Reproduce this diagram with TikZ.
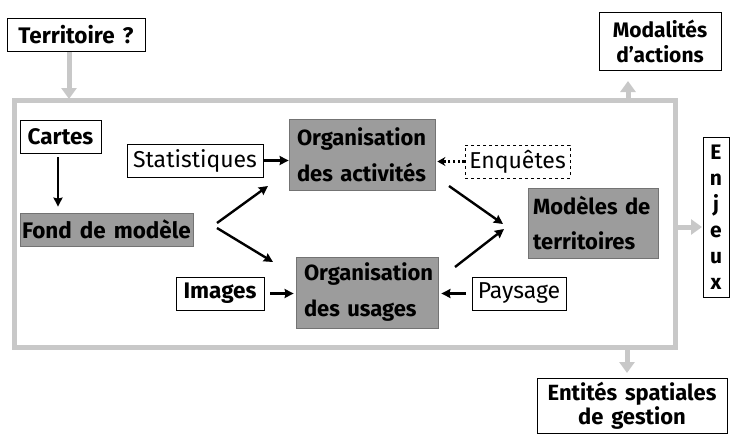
\documentclass[tikz,border=0pt]{standalone}
\usepackage{fontspec}
\setmainfont{Fira Sans}[WordSpace={1.5,0.5,0.3}]
\usetikzlibrary{arrows.meta}
\definecolor{boxgray}{HTML}{9C9C9C}
\definecolor{framegray}{HTML}{C8C8C8}
\tikzset{
  wbox/.style={draw=black, line width=0.8pt, fill=white, inner sep=0pt, minimum height=33pt, font=\fontsize{22.5}{26}\selectfont\bfseries},
  gbox/.style={draw=black!55, line width=0.8pt, fill=boxgray, inner sep=0pt, font=\fontsize{22}{36}\selectfont\bfseries},
  garrow/.style={draw=framegray, line width=5pt, -{Triangle[width=15pt,length=11pt]}},
  barrow/.style={draw=black, line width=2.4pt, -{Stealth[length=9pt,width=9pt,inset=1pt]}},
}
\begin{document}
\begin{tikzpicture}[x=1pt,y=-1pt]
\useasboundingbox (0,0) rectangle (730,434);
% frame
\draw[framegray, line width=5pt] (14,100) rectangle (675,347);
% outside boxes
\node[wbox, minimum width=138pt] (terr) at (76,35) {Territoire ?};
\node[wbox, minimum width=122pt, minimum height=58pt, align=center, font=\fontsize{21}{25}\selectfont\bfseries] (modal) at (660,41) {Modalités\\ d’actions};
\node[wbox, minimum width=26pt, minimum height=160pt, align=center, font=\fontsize{21}{26}\selectfont\bfseries] (enjeux) at (716,217) {E\\n\\j\\e\\u\\x};
\node[wbox, minimum width=190pt, minimum height=55pt, align=center, font=\fontsize{22}{24}\selectfont\bfseries] (entites) at (632,405.5) {Entités spatiales\\de gestion};
% inner boxes
\node[wbox, minimum width=81pt] (cartes) at (60.5,136.5) {Cartes};
\node[gbox, minimum width=173pt, minimum height=33pt, font=\fontsize{22.5}{26}\selectfont\bfseries] (fond) at (106.5,229.5) {Fond de modèle};
\node[wbox, minimum width=136pt, font=\fontsize{23}{26}\selectfont] (stat) at (195,160.5) {Statistiques};
\node[gbox, minimum width=146pt, minimum height=71pt, text width=130pt, align=left] (orgact) at (362,154.5) {Organisation\\des activités};
\node[wbox, dashed, line width=0.6pt, minimum width=105pt, font=\fontsize{23}{26}\selectfont] (enq) at (517.5,161.5) {Enquêtes};
\node[gbox, minimum width=142pt, minimum height=71pt, text width=126pt, align=left] (orgus) at (367,292.5) {Organisation\\des usages};
\node[wbox, minimum width=88pt] (images) at (220,293.5) {Images};
\node[wbox, minimum width=94pt, font=\fontsize{23}{26}\selectfont] (pays) at (519,293.5) {Paysage};
\node[gbox, minimum width=130pt, minimum height=70pt, text width=120pt, align=left, font=\fontsize{22}{35}\selectfont\bfseries] (model) at (593,223) {Modèles de\\territoires};
% gray arrows
\coordinate (t1) at (69,52);
\coordinate (t2) at (69,99);
\draw[garrow] (t1) -- (t2);
\coordinate (m1) at (628,98);
\coordinate (m2) at (628,81);
\draw[garrow] (m1) -- (m2);
\coordinate (e1) at (677,227);
\coordinate (e2) at (702,227);
\draw[garrow] (e1) -- (e2);
\coordinate (s1) at (627,349);
\coordinate (s2) at (627,373);
\draw[garrow] (s1) -- (s2);
% black arrows
\coordinate (c1) at ([xshift=-2.5pt]cartes.south);
\draw[barrow, shorten <=4pt, shorten >=6pt] (c1) -- (c1 |- fond.north);
\draw[barrow, shorten <=1pt] (stat.east) -- (stat.east -| orgact.west);
\draw[draw=black, line width=2.4pt, dash pattern=on 2.4pt off 2.4pt, -{Stealth[length=8pt,width=9pt]}, shorten >=2pt] (enq.west) -- (enq.west -| orgact.east);
\draw[barrow, shorten <=6pt, shorten >=2pt] (images.east) -- (images.east -| orgus.west);
\draw[barrow, shorten <=6pt, shorten >=3pt] (pays.west) -- (pays.west -| orgus.east);
\coordinate (f1) at (217,223);
\coordinate (f2) at (268,186);
\coordinate (f3) at (217,228);
\coordinate (f4) at (273,262);
\coordinate (a1) at (449,186);
\coordinate (a2) at (503,224);
\coordinate (u1) at (455,267);
\coordinate (u2) at (504,229);
\draw[barrow] (f1) -- (f2);
\draw[barrow] (f3) -- (f4);
\draw[barrow] (a1) -- (a2);
\draw[barrow] (u1) -- (u2);
\end{tikzpicture}
\end{document}
